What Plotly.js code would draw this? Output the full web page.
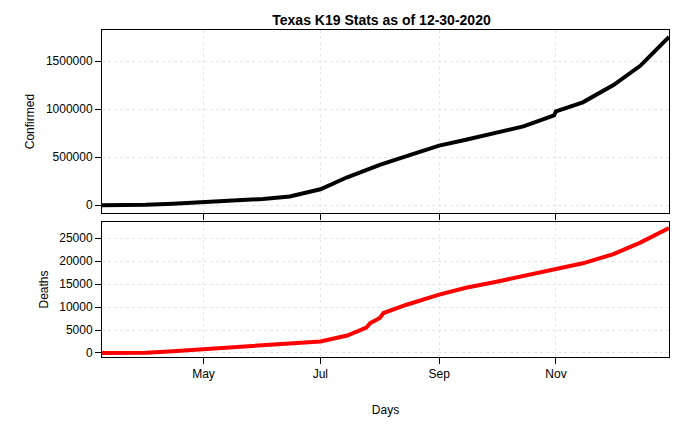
<!DOCTYPE html>
<html>
<head>
<meta charset="utf-8">
<script src="https://cdn.plot.ly/plotly-3.0.1.min.js"></script>
<style>body{margin:0}</style>
</head>
<body>
<div id="chart" style="width:700px;height:432px"></div>
<script>
// values (approximate)
const confDates = ["2020-03-09","2020-03-20","2020-04-01","2020-04-15","2020-05-01","2020-05-15","2020-06-01","2020-06-15","2020-07-01","2020-07-15","2020-08-01","2020-08-15","2020-09-01","2020-09-15","2020-10-01","2020-10-15","2020-10-31","2020-11-01","2020-11-15","2020-12-01","2020-12-15","2020-12-30"];
const confirmed = [0, 300, 4000, 15000, 29000, 45000, 64000, 90000, 165000, 290000, 420000, 510000, 620000, 680000, 750000, 820000, 935000, 975000, 1070000, 1250000, 1450000, 1750000];

const deathDates = ["2020-03-09","2020-03-25","2020-04-01","2020-04-15","2020-05-01","2020-05-15","2020-06-01","2020-06-15","2020-07-01","2020-07-15","2020-07-25","2020-07-27","2020-08-01","2020-08-03","2020-08-15","2020-09-01","2020-09-15","2020-10-01","2020-10-15","2020-11-01","2020-11-15","2020-12-01","2020-12-15","2020-12-30"];
const deaths = [0, 20, 80, 400, 800, 1300, 1700, 2100, 2500, 3800, 5500, 6500, 7600, 8700, 10500, 12700, 14200, 15500, 16800, 18300, 19500, 21500, 24000, 27200];

const tickVals = ["2020-05-01","2020-07-01","2020-09-01","2020-11-01"];
const tickText = ["May","Jul","Sep","Nov"];

const font = {family: "Liberation Sans, Arial, sans-serif", size: 12, color: "#000"};
const xbase = {
  type: "date", range: ["2020-03-09","2020-12-30"], tickvals: tickVals, ticktext: tickText,
  showline: true, mirror: true, linecolor: "#000", linewidth: 1,
  ticks: "outside", ticklen: 6, tickcolor: "#000",
  showgrid: true, gridcolor: "#e6e6e6", griddash: "dot", zeroline: false
};
const ybase = {
  showline: true, mirror: true, linecolor: "#000", linewidth: 1,
  ticks: "outside", ticklen: 6, tickcolor: "#000",
  showgrid: true, gridcolor: "#e6e6e6", griddash: "dot", zeroline: false
};

Plotly.newPlot("chart", [
  {x: confDates, y: confirmed, type: "scatter", mode: "lines", line: {color: "#000", width: 4}, xaxis: "x", yaxis: "y"},
  {x: deathDates, y: deaths, type: "scatter", mode: "lines", line: {color: "#ff0000", width: 4}, xaxis: "x2", yaxis: "y2"}
], {
  width: 700, height: 432, font: font, showlegend: false,
  paper_bgcolor: "#fff", plot_bgcolor: "#fff",
  margin: {l: 102, r: 31, t: 30, b: 75},
  title: {text: "<b>Texas K19 Stats as of 12-30-2020</b>", x: 0.545, xanchor: "center", y: 0.965, font: {size: 14, family: font.family}},
  xaxis: Object.assign({}, xbase, {anchor: "y", showticklabels: false}),
  yaxis: Object.assign({}, ybase, {domain: [0.44, 1], range: [-83000, 1823000], tickvals: [0, 500000, 1000000, 1500000], ticktext: ["0","500000","1000000","1500000"], title: {text: "Confirmed", standoff: 8, font: {size: 12}}}),
  xaxis2: Object.assign({}, xbase, {anchor: "y2", title: {text: "Days", standoff: 25, font: {size: 12}}}),
  yaxis2: Object.assign({}, ybase, {domain: [0, 0.413], range: [-870, 28500], tickvals: [0,5000,10000,15000,20000,25000], ticktext: ["0","5000","10000","15000","20000","25000"], title: {text: "Deaths", standoff: 8, font: {size: 12}}})
}, {displayModeBar: false});
</script>
</body>
</html>
